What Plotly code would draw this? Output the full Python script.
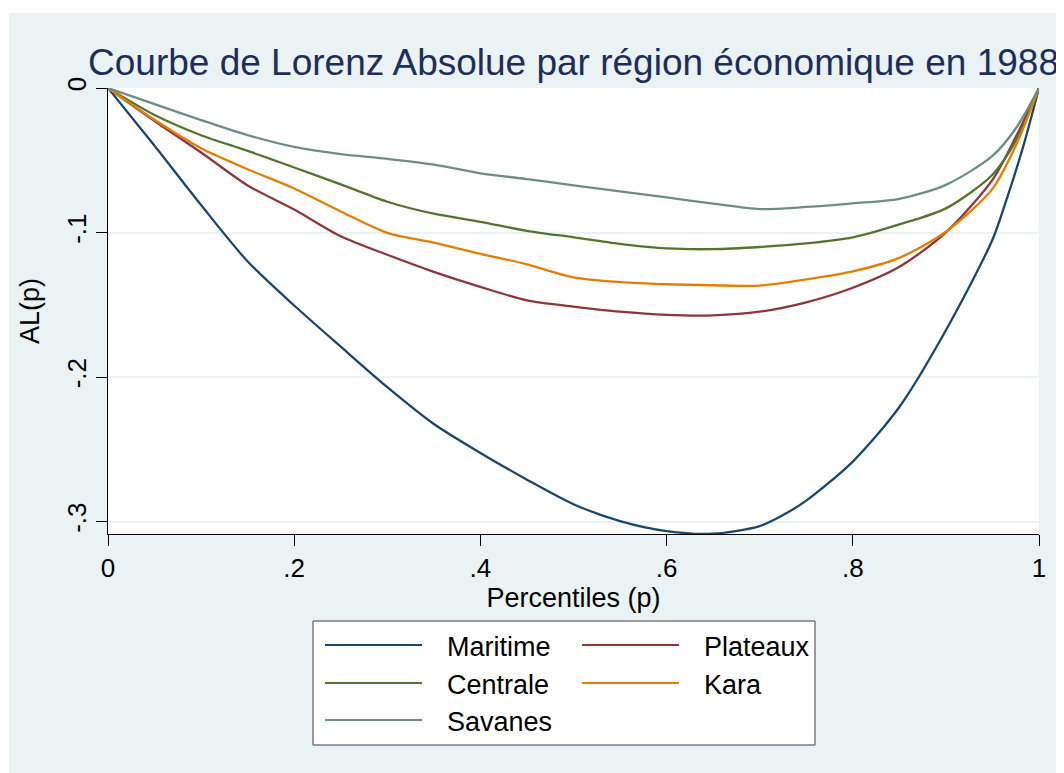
import plotly.graph_objects as go

# percentiles (p)
p = [0, .05, .1, .15, .2, .25, .3, .35, .4, .45, .5, .55, .6, .65, .7, .75, .8, .85, .9, .95, .975, 1]
p_maritime = [0, .05, .1, .15, .2, .25, .3, .35, .4, .45, .5, .55, .6, .65, .7, .725, .75, .8, .85,
              .9, .95, .965, .983, 1]

# absolute Lorenz curve AL(p)
maritime = [0, -.040, -.081, -.120, -.1505, -.179, -.207, -.2325, -.2525, -.271, -.288, -.2997,
            -.3066, -.3084, -.3031, -.2955, -.2855, -.2585, -.2207, -.1676, -.105, -.0774, -.0406, 0]
plateaux = [0, -.0228, -.0446, -.0674, -.0841, -.1026, -.1154, -.1272, -.1376, -.1469, -.1512, -.1548,
            -.1570, -.1573, -.1548, -.1483, -.1382, -.1237, -.0999, -.0636, -.034, 0]
centrale = [0, -.0187, -.0327, -.0435, -.055, -.0667, -.0787, -.087, -.0926, -.0988, -.1033, -.1078,
            -.111, -.1115, -.110, -.1075, -.1033, -.0944, -.0833, -.060, -.0366, 0]
kara = [0, -.022, -.0417, -.0562, -.0695, -.0854, -.1002, -.107, -.1147, -.122, -.131, -.1343,
        -.1358, -.1365, -.1367, -.1324, -.1268, -.1175, -.0995, -.0698, -.040, 0]
savanes = [0, -.0111, -.0222, -.0326, -.0408, -.0458, -.049, -.053, -.059, -.063, -.0674, -.0715,
           -.0757, -.080, -.0838, -.0823, -.0798, -.0767, -.067, -.047, -.028, 0]

regions = ['Maritime', 'Plateaux', 'Centrale', 'Kara', 'Savanes']
xs = [p_maritime, p, p, p, p]
series = [maritime, plateaux, centrale, kara, savanes]
colors = ['#1A476F', '#90353B', '#55752F', '#E37E00', '#6E8E84']

xticks = [0, .2, .4, .6, .8, 1]
xlabels = ['0', '.2', '.4', '.6', '.8', '1']
yticks = [0, -.1, -.2, -.3]
ylabels = ['0', '-.1', '-.2', '-.3']

# the page adds an 8px body margin, so the figure is drawn 8px smaller
OFF = 8
W, H = 1064 - OFF, 773 - OFF
L, R, T, B = 100, 25, 80, 239
pw, ph = W - L - R, H - T - B
BG = '#EAF2F3'
FONT = 'Liberation Sans, Arial, sans-serif'


# helpers: screen pixel -> paper coords
def px_x(x):
    return (x - OFF - L) / pw


def px_y(y):
    return (H - B - (y - OFF)) / ph


fig = go.Figure()
for name, xv, vals, col in zip(regions, xs, series, colors):
    fig.add_trace(go.Scatter(x=xv, y=vals, name=name, mode='lines',
                             line=dict(color=col, width=2.3, shape='spline', smoothing=0.8)))

shapes = [
    # stata-like graph region
    dict(type='rect', xref='paper', yref='paper', layer='below',
         x0=px_x(9), x1=px_x(1064 + 20), y0=px_y(773 + 20), y1=px_y(13),
         fillcolor=BG, line_width=0),
    dict(type='rect', xref='paper', yref='paper', layer='below',
         x0=0, x1=1, y0=0, y1=1, fillcolor='white', line_width=0),
    # legend box
    dict(type='rect', xref='paper', yref='paper', layer='below',
         x0=px_x(313), x1=px_x(815), y0=px_y(745), y1=px_y(621),
         fillcolor='white', line=dict(color='#404040', width=1)),
]
annotations = []

# legend laid out in two columns like the original
cols_x = [325, 582]
rows_y = [645, 683, 720]
for i, (name, col) in enumerate(zip(regions, colors)):
    cx = cols_x[i % 2]
    ry = rows_y[i // 2]
    shapes.append(dict(type='line', xref='paper', yref='paper',
                       x0=px_x(cx), x1=px_x(cx + 97), y0=px_y(ry), y1=px_y(ry),
                       line=dict(color=col, width=2.2)))
    annotations.append(dict(text=name, xref='paper', yref='paper', showarrow=False,
                            x=px_x(cx + 120), y=px_y(ry + 2), xanchor='left', yanchor='middle',
                            font=dict(size=27, color='black', family=FONT)))

fig.update_layout(
    width=W,
    height=H,
    paper_bgcolor='white',
    plot_bgcolor='white',
    showlegend=False,
    font=dict(family=FONT, size=26, color='black'),
    margin=dict(autoexpand=False, l=L, r=R, t=T, b=B),
    title=dict(text='Courbe de Lorenz Absolue par région économique en 1988',
               font=dict(size=37, color='#1C2E5E', family=FONT),
               xref='paper', x=0.5, xanchor='center',
               yref='container', y=1 - (62 - OFF) / H, yanchor='middle'),
    shapes=shapes,
    annotations=annotations,
)

fig.update_xaxes(range=[0, 1], tickvals=xticks, ticktext=xlabels,
                 showgrid=False, zeroline=False, showline=True, linecolor='black', linewidth=1,
                 ticks='outside', ticklen=11, tickcolor='black', tickwidth=1,
                 title=dict(text='Percentiles (p)', standoff=0, font=dict(size=27)))
fig.update_yaxes(range=[-0.3086, 0], tickvals=yticks, ticktext=ylabels, tickangle=-90,
                 showgrid=True, gridcolor=BG, gridwidth=2, zeroline=False,
                 showline=True, linecolor='black', linewidth=1,
                 ticks='outside', ticklen=11, tickcolor='black', tickwidth=1,
                 title=dict(text='AL(p)', standoff=14, font=dict(size=27)))

fig.write_html("out.html")
